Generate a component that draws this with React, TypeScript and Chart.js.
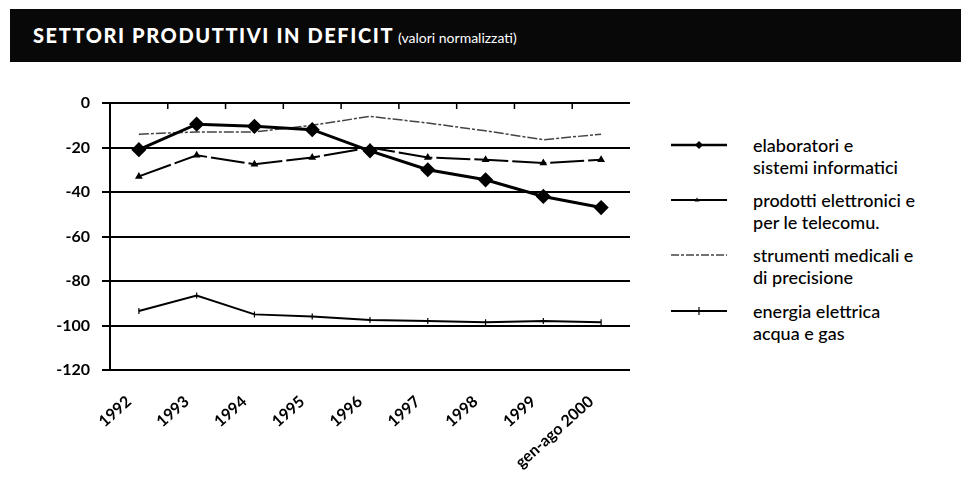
import React, { useEffect, useRef } from 'react';
import { Chart, registerables } from 'chart.js';

Chart.register(...registerables);

const categories = ['1992', '1993', '1994', '1995', '1996', '1997', '1998', '1999', 'gen-ago 2000'];
const elaboratori = [-21, -9.5, -10.5, -12, -21.5, -30, -34.5, -42, -47];
const prodotti = [-33, -23.5, -27.5, -24.5, -20, -24.5, -25.5, -27, -25.5];
const strumenti = [-14, -13, -13, -10, -6, -9, -12.5, -16.5, -14];
const energia = [-93.5, -86.5, -95, -96, -97.5, -98, -98.5, -98, -98.5];
const yTickValues = [0, -20, -40, -60, -80, -100, -120];

const legendLabels = [
  ['elaboratori e', 'sistemi informatici'],
  ['prodotti elettronici e', 'per le telecomu.'],
  ['strumenti medicali e', 'di precisione'],
  ['energia elettrica', 'acqua e gas'],
];

const FONT = 'Lato, "Open Sans", "DejaVu Sans", sans-serif';

const topTicks = {
  id: 'topTicks',
  afterDraw(chart: any) {
    const x = chart.scales.x;
    const area = chart.chartArea;
    const ctx = chart.ctx;
    ctx.save();
    ctx.strokeStyle = '#000';
    ctx.lineWidth = 1.5;
    for (let i = 0; i < categories.length - 1; i++) {
      const px = (x.getPixelForValue(i) + x.getPixelForValue(i + 1)) / 2;
      ctx.beginPath();
      ctx.moveTo(px, area.top);
      ctx.lineTo(px, area.top + 6);
      ctx.stroke();
    }
    ctx.restore();
  },
};

function LegendSample({ kind }: { kind: number }) {
  return (
    <svg width={56} height={14} style={{ display: 'block' }}>
      {kind === 0 && (
        <g>
          <line x1={0} y1={7} x2={56} y2={7} stroke="#000" strokeWidth={2.5} />
          <polygon points="28,3 32,7 28,11 24,7" fill="#000" />
        </g>
      )}
      {kind === 1 && (
        <g>
          <line x1={0} y1={7} x2={56} y2={7} stroke="#000" strokeWidth={2} />
          <polygon points="26,4.5 28.5,8.5 23.5,8.5" fill="#000" />
        </g>
      )}
      {kind === 2 && (
        <line x1={0} y1={7} x2={56} y2={7} stroke="#444" strokeWidth={1.5} strokeDasharray="8 2 3 2" />
      )}
      {kind === 3 && (
        <g>
          <line x1={0} y1={7} x2={56} y2={7} stroke="#000" strokeWidth={2} />
          <line x1={28} y1={3} x2={28} y2={11} stroke="#000" strokeWidth={1.2} />
        </g>
      )}
    </svg>
  );
}

export default function App() {
  const ref = useRef<HTMLCanvasElement>(null);

  useEffect(() => {
    if (!ref.current) return;
    const chart = new Chart(ref.current, {
      type: 'line',
      data: {
        labels: categories,
        datasets: [
          {
            label: legendLabels[0].join(' '),
            data: elaboratori,
            borderColor: '#000',
            backgroundColor: '#000',
            borderWidth: 3,
            pointStyle: 'rectRot',
            pointRadius: 5.5,
            pointBackgroundColor: '#000',
            tension: 0,
          },
          {
            label: legendLabels[1].join(' '),
            data: prodotti,
            borderColor: '#000',
            backgroundColor: '#000',
            borderWidth: 2,
            borderDash: [34, 4],
            pointStyle: 'triangle',
            pointRadius: 2.5,
            tension: 0,
          },
          {
            label: legendLabels[2].join(' '),
            data: strumenti,
            borderColor: '#444',
            backgroundColor: '#444',
            borderWidth: 1.5,
            borderDash: [10, 2, 3, 2],
            pointRadius: 0,
            tension: 0,
          },
          {
            label: legendLabels[3].join(' '),
            data: energia,
            borderColor: '#000',
            backgroundColor: '#000',
            borderWidth: 2,
            pointStyle: 'line',
            pointRotation: 90,
            pointRadius: 3,
            pointBorderWidth: 1.2,
            tension: 0,
          },
        ],
      },
      options: {
        responsive: false,
        animation: false,
        layout: { padding: { top: 33, right: 20, left: 0, bottom: 0 } },
        plugins: {
          legend: { display: false },
          tooltip: { enabled: false },
        },
        scales: {
          x: {
            offset: true,
            grid: { display: false, drawTicks: false },
            border: { display: false },
            ticks: {
              color: '#000',
              font: { family: FONT, size: 16, weight: 'bold' },
              minRotation: 42,
              maxRotation: 42,
              padding: 22,
              labelOffset: -10,
              autoSkip: false,
            },
            afterFit: (scale: any) => {
              scale.height = 118;
            },
          },
          y: {
            min: -120,
            max: 0,
            afterBuildTicks: (scale: any) => {
              scale.ticks = yTickValues.map((v) => ({ value: v }));
            },
            grid: { color: '#000', lineWidth: 2, tickLength: 8, drawTicks: true },
            border: { display: true, color: '#000', width: 2 },
            ticks: {
              color: '#000',
              font: { family: FONT, size: 16, weight: 'bold' },
              padding: 12,
            },
            afterFit: (scale: any) => {
              scale.width = 110;
            },
          },
        },
      },
      plugins: [topTicks],
    } as any);
    return () => chart.destroy();
  }, []);

  const legendY = [145, 200, 255, 311];

  return (
    <div style={{ position: 'absolute', left: 0, top: 0, width: 961, height: 488, background: '#fff', overflow: 'hidden', fontFamily: FONT }}>
      <div
        style={{
          position: 'absolute',
          left: 10,
          top: 9,
          width: 951,
          height: 53,
          background: '#080808',
        }}
      >
        <div
          style={{
            position: 'absolute',
            left: 23,
            top: 14,
            color: '#fff',
            whiteSpace: 'nowrap',
            lineHeight: '24px',
          }}
        >
          <span style={{ fontWeight: 900, fontSize: 20, letterSpacing: 1.6 }}>SETTORI PRODUTTIVI IN DEFICIT</span>
          <span style={{ fontWeight: 400, fontSize: 14, marginLeft: 4 }}>(valori normalizzati)</span>
        </div>
      </div>
      <canvas ref={ref} width={650} height={418} style={{ position: 'absolute', left: 0, top: 70, width: 650, height: 418 }} />
      {legendLabels.map((lines, i) => (
        <React.Fragment key={i}>
          <div style={{ position: 'absolute', left: 671, top: legendY[i] - 7 }}>
            <LegendSample kind={i} />
          </div>
          <div
            style={{
              position: 'absolute',
              left: 753,
              top: legendY[i] - 11,
              fontSize: 18,
              fontWeight: 500,
              lineHeight: '22px',
              color: '#000',
              whiteSpace: 'nowrap',
            }}
          >
            {lines.map((l, j) => (
              <div key={j}>{l}</div>
            ))}
          </div>
        </React.Fragment>
      ))}
    </div>
  );
}
